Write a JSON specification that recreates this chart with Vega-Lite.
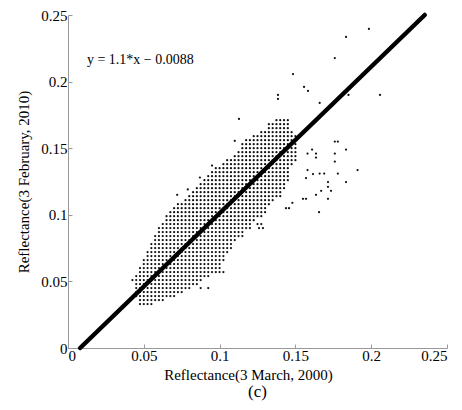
{
"$schema":"https://vega.github.io/schema/vega-lite/v6.json",
"width":379,"height":333,
"autosize":"none",
"padding":{"left":68,"top":15,"right":15,"bottom":62},
"title":{"text":"(c)","orient":"bottom","font":"Liberation Serif","fontSize":17,"fontWeight":"normal","color":"#000","offset":2},
"config":{"view":{"stroke":null},"axis":{"grid":false,"domainColor":"#999","tickColor":"#999","labelFont":"Liberation Serif","labelFontSize":15,"labelColor":"#000","titleFont":"Liberation Serif","titleFontSize":15,"titleFontWeight":"normal","titleColor":"#000"}},
"datasets":{
"cloud":[
{"x":0.0475,"y":0.033},{"x":0.05,"y":0.033},{"x":0.0525,"y":0.033},{"x":0.055,"y":0.033},
{"x":0.0475,"y":0.036},{"x":0.05,"y":0.036},{"x":0.0525,"y":0.036},{"x":0.055,"y":0.036},{"x":0.0575,"y":0.036},{"x":0.06,"y":0.036},{"x":0.0625,"y":0.036},
{"x":0.045,"y":0.039},{"x":0.0475,"y":0.039},{"x":0.05,"y":0.039},{"x":0.0525,"y":0.039},{"x":0.055,"y":0.039},{"x":0.0575,"y":0.039},{"x":0.06,"y":0.039},{"x":0.0625,"y":0.039},{"x":0.065,"y":0.039},{"x":0.0675,"y":0.039},{"x":0.07,"y":0.039},
{"x":0.045,"y":0.042},{"x":0.0475,"y":0.042},{"x":0.05,"y":0.042},{"x":0.0525,"y":0.042},{"x":0.055,"y":0.042},{"x":0.0575,"y":0.042},{"x":0.06,"y":0.042},{"x":0.0625,"y":0.042},{"x":0.065,"y":0.042},{"x":0.0675,"y":0.042},{"x":0.07,"y":0.042},{"x":0.0725,"y":0.042},{"x":0.075,"y":0.042},
{"x":0.045,"y":0.045},{"x":0.0475,"y":0.045},{"x":0.05,"y":0.045},{"x":0.0525,"y":0.045},{"x":0.055,"y":0.045},{"x":0.0575,"y":0.045},{"x":0.06,"y":0.045},{"x":0.0625,"y":0.045},{"x":0.065,"y":0.045},{"x":0.0675,"y":0.045},{"x":0.07,"y":0.045},{"x":0.0725,"y":0.045},{"x":0.075,"y":0.045},{"x":0.0775,"y":0.045},{"x":0.08,"y":0.045},
{"x":0.045,"y":0.048},{"x":0.0475,"y":0.048},{"x":0.05,"y":0.048},{"x":0.0525,"y":0.048},{"x":0.055,"y":0.048},{"x":0.0575,"y":0.048},{"x":0.06,"y":0.048},{"x":0.0625,"y":0.048},{"x":0.065,"y":0.048},{"x":0.0675,"y":0.048},{"x":0.07,"y":0.048},{"x":0.0725,"y":0.048},{"x":0.075,"y":0.048},{"x":0.0775,"y":0.048},{"x":0.08,"y":0.048},{"x":0.0825,"y":0.048},{"x":0.085,"y":0.048},
{"x":0.045,"y":0.051},{"x":0.0475,"y":0.051},{"x":0.05,"y":0.051},{"x":0.0525,"y":0.051},{"x":0.055,"y":0.051},{"x":0.0575,"y":0.051},{"x":0.06,"y":0.051},{"x":0.0625,"y":0.051},{"x":0.065,"y":0.051},{"x":0.0675,"y":0.051},{"x":0.07,"y":0.051},{"x":0.0725,"y":0.051},{"x":0.075,"y":0.051},{"x":0.0775,"y":0.051},{"x":0.08,"y":0.051},{"x":0.0825,"y":0.051},{"x":0.085,"y":0.051},{"x":0.0875,"y":0.051},
{"x":0.045,"y":0.054},{"x":0.0475,"y":0.054},{"x":0.05,"y":0.054},{"x":0.0525,"y":0.054},{"x":0.055,"y":0.054},{"x":0.0575,"y":0.054},{"x":0.06,"y":0.054},{"x":0.0625,"y":0.054},{"x":0.065,"y":0.054},{"x":0.0675,"y":0.054},{"x":0.07,"y":0.054},{"x":0.0725,"y":0.054},{"x":0.075,"y":0.054},{"x":0.0775,"y":0.054},{"x":0.08,"y":0.054},{"x":0.0825,"y":0.054},{"x":0.085,"y":0.054},{"x":0.0875,"y":0.054},{"x":0.09,"y":0.054},{"x":0.0925,"y":0.054},
{"x":0.0475,"y":0.057},{"x":0.05,"y":0.057},{"x":0.0525,"y":0.057},{"x":0.055,"y":0.057},{"x":0.0575,"y":0.057},{"x":0.06,"y":0.057},{"x":0.0625,"y":0.057},{"x":0.065,"y":0.057},{"x":0.0675,"y":0.057},{"x":0.07,"y":0.057},{"x":0.0725,"y":0.057},{"x":0.075,"y":0.057},{"x":0.0775,"y":0.057},{"x":0.08,"y":0.057},{"x":0.0825,"y":0.057},{"x":0.085,"y":0.057},{"x":0.0875,"y":0.057},{"x":0.09,"y":0.057},{"x":0.0925,"y":0.057},{"x":0.095,"y":0.057},{"x":0.0975,"y":0.057},
{"x":0.0475,"y":0.06},{"x":0.05,"y":0.06},{"x":0.0525,"y":0.06},{"x":0.055,"y":0.06},{"x":0.0575,"y":0.06},{"x":0.06,"y":0.06},{"x":0.0625,"y":0.06},{"x":0.065,"y":0.06},{"x":0.0675,"y":0.06},{"x":0.07,"y":0.06},{"x":0.0725,"y":0.06},{"x":0.075,"y":0.06},{"x":0.0775,"y":0.06},{"x":0.08,"y":0.06},{"x":0.0825,"y":0.06},{"x":0.085,"y":0.06},{"x":0.0875,"y":0.06},{"x":0.09,"y":0.06},{"x":0.0925,"y":0.06},{"x":0.095,"y":0.06},{"x":0.0975,"y":0.06},{"x":0.1,"y":0.06},
{"x":0.05,"y":0.063},{"x":0.0525,"y":0.063},{"x":0.055,"y":0.063},{"x":0.0575,"y":0.063},{"x":0.06,"y":0.063},{"x":0.0625,"y":0.063},{"x":0.065,"y":0.063},{"x":0.0675,"y":0.063},{"x":0.07,"y":0.063},{"x":0.0725,"y":0.063},{"x":0.075,"y":0.063},{"x":0.0775,"y":0.063},{"x":0.08,"y":0.063},{"x":0.0825,"y":0.063},{"x":0.085,"y":0.063},{"x":0.0875,"y":0.063},{"x":0.09,"y":0.063},{"x":0.0925,"y":0.063},{"x":0.095,"y":0.063},{"x":0.0975,"y":0.063},{"x":0.1,"y":0.063},
{"x":0.05,"y":0.066},{"x":0.0525,"y":0.066},{"x":0.055,"y":0.066},{"x":0.0575,"y":0.066},{"x":0.06,"y":0.066},{"x":0.0625,"y":0.066},{"x":0.065,"y":0.066},{"x":0.0675,"y":0.066},{"x":0.07,"y":0.066},{"x":0.0725,"y":0.066},{"x":0.075,"y":0.066},{"x":0.0775,"y":0.066},{"x":0.08,"y":0.066},{"x":0.0825,"y":0.066},{"x":0.085,"y":0.066},{"x":0.0875,"y":0.066},{"x":0.09,"y":0.066},{"x":0.0925,"y":0.066},{"x":0.095,"y":0.066},{"x":0.0975,"y":0.066},{"x":0.1,"y":0.066},{"x":0.1025,"y":0.066},
{"x":0.0525,"y":0.069},{"x":0.055,"y":0.069},{"x":0.0575,"y":0.069},{"x":0.06,"y":0.069},{"x":0.0625,"y":0.069},{"x":0.065,"y":0.069},{"x":0.0675,"y":0.069},{"x":0.07,"y":0.069},{"x":0.0725,"y":0.069},{"x":0.075,"y":0.069},{"x":0.0775,"y":0.069},{"x":0.08,"y":0.069},{"x":0.0825,"y":0.069},{"x":0.085,"y":0.069},{"x":0.0875,"y":0.069},{"x":0.09,"y":0.069},{"x":0.0925,"y":0.069},{"x":0.095,"y":0.069},{"x":0.0975,"y":0.069},{"x":0.1,"y":0.069},{"x":0.1025,"y":0.069},
{"x":0.0525,"y":0.072},{"x":0.055,"y":0.072},{"x":0.0575,"y":0.072},{"x":0.06,"y":0.072},{"x":0.0625,"y":0.072},{"x":0.065,"y":0.072},{"x":0.0675,"y":0.072},{"x":0.07,"y":0.072},{"x":0.0725,"y":0.072},{"x":0.075,"y":0.072},{"x":0.0775,"y":0.072},{"x":0.08,"y":0.072},{"x":0.0825,"y":0.072},{"x":0.085,"y":0.072},{"x":0.0875,"y":0.072},{"x":0.09,"y":0.072},{"x":0.0925,"y":0.072},{"x":0.095,"y":0.072},{"x":0.0975,"y":0.072},{"x":0.1,"y":0.072},{"x":0.1025,"y":0.072},{"x":0.105,"y":0.072},
{"x":0.055,"y":0.075},{"x":0.0575,"y":0.075},{"x":0.06,"y":0.075},{"x":0.0625,"y":0.075},{"x":0.065,"y":0.075},{"x":0.0675,"y":0.075},{"x":0.07,"y":0.075},{"x":0.0725,"y":0.075},{"x":0.075,"y":0.075},{"x":0.0775,"y":0.075},{"x":0.08,"y":0.075},{"x":0.0825,"y":0.075},{"x":0.085,"y":0.075},{"x":0.0875,"y":0.075},{"x":0.09,"y":0.075},{"x":0.0925,"y":0.075},{"x":0.095,"y":0.075},{"x":0.0975,"y":0.075},{"x":0.1,"y":0.075},{"x":0.1025,"y":0.075},{"x":0.105,"y":0.075},{"x":0.1075,"y":0.075},
{"x":0.055,"y":0.078},{"x":0.0575,"y":0.078},{"x":0.06,"y":0.078},{"x":0.0625,"y":0.078},{"x":0.065,"y":0.078},{"x":0.0675,"y":0.078},{"x":0.07,"y":0.078},{"x":0.0725,"y":0.078},{"x":0.075,"y":0.078},{"x":0.0775,"y":0.078},{"x":0.08,"y":0.078},{"x":0.0825,"y":0.078},{"x":0.085,"y":0.078},{"x":0.0875,"y":0.078},{"x":0.09,"y":0.078},{"x":0.0925,"y":0.078},{"x":0.095,"y":0.078},{"x":0.0975,"y":0.078},{"x":0.1,"y":0.078},{"x":0.1025,"y":0.078},{"x":0.105,"y":0.078},{"x":0.1075,"y":0.078},
{"x":0.0575,"y":0.081},{"x":0.06,"y":0.081},{"x":0.0625,"y":0.081},{"x":0.065,"y":0.081},{"x":0.0675,"y":0.081},{"x":0.07,"y":0.081},{"x":0.0725,"y":0.081},{"x":0.075,"y":0.081},{"x":0.0775,"y":0.081},{"x":0.08,"y":0.081},{"x":0.0825,"y":0.081},{"x":0.085,"y":0.081},{"x":0.0875,"y":0.081},{"x":0.09,"y":0.081},{"x":0.0925,"y":0.081},{"x":0.095,"y":0.081},{"x":0.0975,"y":0.081},{"x":0.1,"y":0.081},{"x":0.1025,"y":0.081},{"x":0.105,"y":0.081},{"x":0.1075,"y":0.081},{"x":0.11,"y":0.081},
{"x":0.0575,"y":0.084},{"x":0.06,"y":0.084},{"x":0.0625,"y":0.084},{"x":0.065,"y":0.084},{"x":0.0675,"y":0.084},{"x":0.07,"y":0.084},{"x":0.0725,"y":0.084},{"x":0.075,"y":0.084},{"x":0.0775,"y":0.084},{"x":0.08,"y":0.084},{"x":0.0825,"y":0.084},{"x":0.085,"y":0.084},{"x":0.0875,"y":0.084},{"x":0.09,"y":0.084},{"x":0.0925,"y":0.084},{"x":0.095,"y":0.084},{"x":0.0975,"y":0.084},{"x":0.1,"y":0.084},{"x":0.1025,"y":0.084},{"x":0.105,"y":0.084},{"x":0.1075,"y":0.084},{"x":0.11,"y":0.084},{"x":0.1125,"y":0.084},{"x":0.115,"y":0.084},
{"x":0.06,"y":0.087},{"x":0.0625,"y":0.087},{"x":0.065,"y":0.087},{"x":0.0675,"y":0.087},{"x":0.07,"y":0.087},{"x":0.0725,"y":0.087},{"x":0.075,"y":0.087},{"x":0.0775,"y":0.087},{"x":0.08,"y":0.087},{"x":0.0825,"y":0.087},{"x":0.085,"y":0.087},{"x":0.0875,"y":0.087},{"x":0.09,"y":0.087},{"x":0.0925,"y":0.087},{"x":0.095,"y":0.087},{"x":0.0975,"y":0.087},{"x":0.1,"y":0.087},{"x":0.1025,"y":0.087},{"x":0.105,"y":0.087},{"x":0.1075,"y":0.087},{"x":0.11,"y":0.087},{"x":0.1125,"y":0.087},{"x":0.115,"y":0.087},
{"x":0.06,"y":0.09},{"x":0.0625,"y":0.09},{"x":0.065,"y":0.09},{"x":0.0675,"y":0.09},{"x":0.07,"y":0.09},{"x":0.0725,"y":0.09},{"x":0.075,"y":0.09},{"x":0.0775,"y":0.09},{"x":0.08,"y":0.09},{"x":0.0825,"y":0.09},{"x":0.085,"y":0.09},{"x":0.0875,"y":0.09},{"x":0.09,"y":0.09},{"x":0.0925,"y":0.09},{"x":0.095,"y":0.09},{"x":0.0975,"y":0.09},{"x":0.1,"y":0.09},{"x":0.1025,"y":0.09},{"x":0.105,"y":0.09},{"x":0.1075,"y":0.09},{"x":0.11,"y":0.09},{"x":0.1125,"y":0.09},{"x":0.115,"y":0.09},{"x":0.1175,"y":0.09},{"x":0.12,"y":0.09},
{"x":0.0625,"y":0.093},{"x":0.065,"y":0.093},{"x":0.0675,"y":0.093},{"x":0.07,"y":0.093},{"x":0.0725,"y":0.093},{"x":0.075,"y":0.093},{"x":0.0775,"y":0.093},{"x":0.08,"y":0.093},{"x":0.0825,"y":0.093},{"x":0.085,"y":0.093},{"x":0.0875,"y":0.093},{"x":0.09,"y":0.093},{"x":0.0925,"y":0.093},{"x":0.095,"y":0.093},{"x":0.0975,"y":0.093},{"x":0.1,"y":0.093},{"x":0.1025,"y":0.093},{"x":0.105,"y":0.093},{"x":0.1075,"y":0.093},{"x":0.11,"y":0.093},{"x":0.1125,"y":0.093},{"x":0.115,"y":0.093},{"x":0.1175,"y":0.093},{"x":0.12,"y":0.093},
{"x":0.065,"y":0.096},{"x":0.0675,"y":0.096},{"x":0.07,"y":0.096},{"x":0.0725,"y":0.096},{"x":0.075,"y":0.096},{"x":0.0775,"y":0.096},{"x":0.08,"y":0.096},{"x":0.0825,"y":0.096},{"x":0.085,"y":0.096},{"x":0.0875,"y":0.096},{"x":0.09,"y":0.096},{"x":0.0925,"y":0.096},{"x":0.095,"y":0.096},{"x":0.0975,"y":0.096},{"x":0.1,"y":0.096},{"x":0.1025,"y":0.096},{"x":0.105,"y":0.096},{"x":0.1075,"y":0.096},{"x":0.11,"y":0.096},{"x":0.1125,"y":0.096},{"x":0.115,"y":0.096},{"x":0.1175,"y":0.096},{"x":0.12,"y":0.096},{"x":0.1225,"y":0.096},
{"x":0.065,"y":0.099},{"x":0.0675,"y":0.099},{"x":0.07,"y":0.099},{"x":0.0725,"y":0.099},{"x":0.075,"y":0.099},{"x":0.0775,"y":0.099},{"x":0.08,"y":0.099},{"x":0.0825,"y":0.099},{"x":0.085,"y":0.099},{"x":0.0875,"y":0.099},{"x":0.09,"y":0.099},{"x":0.0925,"y":0.099},{"x":0.095,"y":0.099},{"x":0.0975,"y":0.099},{"x":0.1,"y":0.099},{"x":0.1025,"y":0.099},{"x":0.105,"y":0.099},{"x":0.1075,"y":0.099},{"x":0.11,"y":0.099},{"x":0.1125,"y":0.099},{"x":0.115,"y":0.099},{"x":0.1175,"y":0.099},{"x":0.12,"y":0.099},{"x":0.1225,"y":0.099},{"x":0.125,"y":0.099},{"x":0.1275,"y":0.099},
{"x":0.0675,"y":0.102},{"x":0.07,"y":0.102},{"x":0.0725,"y":0.102},{"x":0.075,"y":0.102},{"x":0.0775,"y":0.102},{"x":0.08,"y":0.102},{"x":0.0825,"y":0.102},{"x":0.085,"y":0.102},{"x":0.0875,"y":0.102},{"x":0.09,"y":0.102},{"x":0.0925,"y":0.102},{"x":0.095,"y":0.102},{"x":0.0975,"y":0.102},{"x":0.1,"y":0.102},{"x":0.1025,"y":0.102},{"x":0.105,"y":0.102},{"x":0.1075,"y":0.102},{"x":0.11,"y":0.102},{"x":0.1125,"y":0.102},{"x":0.115,"y":0.102},{"x":0.1175,"y":0.102},{"x":0.12,"y":0.102},{"x":0.1225,"y":0.102},{"x":0.125,"y":0.102},{"x":0.1275,"y":0.102},{"x":0.13,"y":0.102},
{"x":0.07,"y":0.105},{"x":0.0725,"y":0.105},{"x":0.075,"y":0.105},{"x":0.0775,"y":0.105},{"x":0.08,"y":0.105},{"x":0.0825,"y":0.105},{"x":0.085,"y":0.105},{"x":0.0875,"y":0.105},{"x":0.09,"y":0.105},{"x":0.0925,"y":0.105},{"x":0.095,"y":0.105},{"x":0.0975,"y":0.105},{"x":0.1,"y":0.105},{"x":0.1025,"y":0.105},{"x":0.105,"y":0.105},{"x":0.1075,"y":0.105},{"x":0.11,"y":0.105},{"x":0.1125,"y":0.105},{"x":0.115,"y":0.105},{"x":0.1175,"y":0.105},{"x":0.12,"y":0.105},{"x":0.1225,"y":0.105},{"x":0.125,"y":0.105},{"x":0.1275,"y":0.105},{"x":0.13,"y":0.105},
{"x":0.0725,"y":0.108},{"x":0.075,"y":0.108},{"x":0.0775,"y":0.108},{"x":0.08,"y":0.108},{"x":0.0825,"y":0.108},{"x":0.085,"y":0.108},{"x":0.0875,"y":0.108},{"x":0.09,"y":0.108},{"x":0.0925,"y":0.108},{"x":0.095,"y":0.108},{"x":0.0975,"y":0.108},{"x":0.1,"y":0.108},{"x":0.1025,"y":0.108},{"x":0.105,"y":0.108},{"x":0.1075,"y":0.108},{"x":0.11,"y":0.108},{"x":0.1125,"y":0.108},{"x":0.115,"y":0.108},{"x":0.1175,"y":0.108},{"x":0.12,"y":0.108},{"x":0.1225,"y":0.108},{"x":0.125,"y":0.108},{"x":0.1275,"y":0.108},{"x":0.13,"y":0.108},{"x":0.1325,"y":0.108},
{"x":0.0775,"y":0.111},{"x":0.08,"y":0.111},{"x":0.0825,"y":0.111},{"x":0.085,"y":0.111},{"x":0.0875,"y":0.111},{"x":0.09,"y":0.111},{"x":0.0925,"y":0.111},{"x":0.095,"y":0.111},{"x":0.0975,"y":0.111},{"x":0.1,"y":0.111},{"x":0.1025,"y":0.111},{"x":0.105,"y":0.111},{"x":0.1075,"y":0.111},{"x":0.11,"y":0.111},{"x":0.1125,"y":0.111},{"x":0.115,"y":0.111},{"x":0.1175,"y":0.111},{"x":0.12,"y":0.111},{"x":0.1225,"y":0.111},{"x":0.125,"y":0.111},{"x":0.1275,"y":0.111},{"x":0.13,"y":0.111},{"x":0.1325,"y":0.111},{"x":0.135,"y":0.111},
{"x":0.08,"y":0.114},{"x":0.0825,"y":0.114},{"x":0.085,"y":0.114},{"x":0.0875,"y":0.114},{"x":0.09,"y":0.114},{"x":0.0925,"y":0.114},{"x":0.095,"y":0.114},{"x":0.0975,"y":0.114},{"x":0.1,"y":0.114},{"x":0.1025,"y":0.114},{"x":0.105,"y":0.114},{"x":0.1075,"y":0.114},{"x":0.11,"y":0.114},{"x":0.1125,"y":0.114},{"x":0.115,"y":0.114},{"x":0.1175,"y":0.114},{"x":0.12,"y":0.114},{"x":0.1225,"y":0.114},{"x":0.125,"y":0.114},{"x":0.1275,"y":0.114},{"x":0.13,"y":0.114},{"x":0.1325,"y":0.114},{"x":0.135,"y":0.114},{"x":0.1375,"y":0.114},{"x":0.14,"y":0.114},
{"x":0.0825,"y":0.117},{"x":0.085,"y":0.117},{"x":0.0875,"y":0.117},{"x":0.09,"y":0.117},{"x":0.0925,"y":0.117},{"x":0.095,"y":0.117},{"x":0.0975,"y":0.117},{"x":0.1,"y":0.117},{"x":0.1025,"y":0.117},{"x":0.105,"y":0.117},{"x":0.1075,"y":0.117},{"x":0.11,"y":0.117},{"x":0.1125,"y":0.117},{"x":0.115,"y":0.117},{"x":0.1175,"y":0.117},{"x":0.12,"y":0.117},{"x":0.1225,"y":0.117},{"x":0.125,"y":0.117},{"x":0.1275,"y":0.117},{"x":0.13,"y":0.117},{"x":0.1325,"y":0.117},{"x":0.135,"y":0.117},{"x":0.1375,"y":0.117},{"x":0.14,"y":0.117},
{"x":0.085,"y":0.12},{"x":0.0875,"y":0.12},{"x":0.09,"y":0.12},{"x":0.0925,"y":0.12},{"x":0.095,"y":0.12},{"x":0.0975,"y":0.12},{"x":0.1,"y":0.12},{"x":0.1025,"y":0.12},{"x":0.105,"y":0.12},{"x":0.1075,"y":0.12},{"x":0.11,"y":0.12},{"x":0.1125,"y":0.12},{"x":0.115,"y":0.12},{"x":0.1175,"y":0.12},{"x":0.12,"y":0.12},{"x":0.1225,"y":0.12},{"x":0.125,"y":0.12},{"x":0.1275,"y":0.12},{"x":0.13,"y":0.12},{"x":0.1325,"y":0.12},{"x":0.135,"y":0.12},{"x":0.1375,"y":0.12},{"x":0.14,"y":0.12},{"x":0.1425,"y":0.12},
{"x":0.0875,"y":0.123},{"x":0.09,"y":0.123},{"x":0.0925,"y":0.123},{"x":0.095,"y":0.123},{"x":0.0975,"y":0.123},{"x":0.1,"y":0.123},{"x":0.1025,"y":0.123},{"x":0.105,"y":0.123},{"x":0.1075,"y":0.123},{"x":0.11,"y":0.123},{"x":0.1125,"y":0.123},{"x":0.115,"y":0.123},{"x":0.1175,"y":0.123},{"x":0.12,"y":0.123},{"x":0.1225,"y":0.123},{"x":0.125,"y":0.123},{"x":0.1275,"y":0.123},{"x":0.13,"y":0.123},{"x":0.1325,"y":0.123},{"x":0.135,"y":0.123},{"x":0.1375,"y":0.123},{"x":0.14,"y":0.123},{"x":0.1425,"y":0.123},
{"x":0.09,"y":0.126},{"x":0.0925,"y":0.126},{"x":0.095,"y":0.126},{"x":0.0975,"y":0.126},{"x":0.1,"y":0.126},{"x":0.1025,"y":0.126},{"x":0.105,"y":0.126},{"x":0.1075,"y":0.126},{"x":0.11,"y":0.126},{"x":0.1125,"y":0.126},{"x":0.115,"y":0.126},{"x":0.1175,"y":0.126},{"x":0.12,"y":0.126},{"x":0.1225,"y":0.126},{"x":0.125,"y":0.126},{"x":0.1275,"y":0.126},{"x":0.13,"y":0.126},{"x":0.1325,"y":0.126},{"x":0.135,"y":0.126},{"x":0.1375,"y":0.126},{"x":0.14,"y":0.126},{"x":0.1425,"y":0.126},{"x":0.145,"y":0.126},
{"x":0.0925,"y":0.129},{"x":0.095,"y":0.129},{"x":0.0975,"y":0.129},{"x":0.1,"y":0.129},{"x":0.1025,"y":0.129},{"x":0.105,"y":0.129},{"x":0.1075,"y":0.129},{"x":0.11,"y":0.129},{"x":0.1125,"y":0.129},{"x":0.115,"y":0.129},{"x":0.1175,"y":0.129},{"x":0.12,"y":0.129},{"x":0.1225,"y":0.129},{"x":0.125,"y":0.129},{"x":0.1275,"y":0.129},{"x":0.13,"y":0.129},{"x":0.1325,"y":0.129},{"x":0.135,"y":0.129},{"x":0.1375,"y":0.129},{"x":0.14,"y":0.129},{"x":0.1425,"y":0.129},{"x":0.145,"y":0.129},
{"x":0.095,"y":0.132},{"x":0.0975,"y":0.132},{"x":0.1,"y":0.132},{"x":0.1025,"y":0.132},{"x":0.105,"y":0.132},{"x":0.1075,"y":0.132},{"x":0.11,"y":0.132},{"x":0.1125,"y":0.132},{"x":0.115,"y":0.132},{"x":0.1175,"y":0.132},{"x":0.12,"y":0.132},{"x":0.1225,"y":0.132},{"x":0.125,"y":0.132},{"x":0.1275,"y":0.132},{"x":0.13,"y":0.132},{"x":0.1325,"y":0.132},{"x":0.135,"y":0.132},{"x":0.1375,"y":0.132},{"x":0.14,"y":0.132},{"x":0.1425,"y":0.132},{"x":0.145,"y":0.132},
{"x":0.0975,"y":0.135},{"x":0.1,"y":0.135},{"x":0.1025,"y":0.135},{"x":0.105,"y":0.135},{"x":0.1075,"y":0.135},{"x":0.11,"y":0.135},{"x":0.1125,"y":0.135},{"x":0.115,"y":0.135},{"x":0.1175,"y":0.135},{"x":0.12,"y":0.135},{"x":0.1225,"y":0.135},{"x":0.125,"y":0.135},{"x":0.1275,"y":0.135},{"x":0.13,"y":0.135},{"x":0.1325,"y":0.135},{"x":0.135,"y":0.135},{"x":0.1375,"y":0.135},{"x":0.14,"y":0.135},{"x":0.1425,"y":0.135},{"x":0.145,"y":0.135},
{"x":0.1025,"y":0.138},{"x":0.105,"y":0.138},{"x":0.1075,"y":0.138},{"x":0.11,"y":0.138},{"x":0.1125,"y":0.138},{"x":0.115,"y":0.138},{"x":0.1175,"y":0.138},{"x":0.12,"y":0.138},{"x":0.1225,"y":0.138},{"x":0.125,"y":0.138},{"x":0.1275,"y":0.138},{"x":0.13,"y":0.138},{"x":0.1325,"y":0.138},{"x":0.135,"y":0.138},{"x":0.1375,"y":0.138},{"x":0.14,"y":0.138},{"x":0.1425,"y":0.138},{"x":0.145,"y":0.138},{"x":0.1475,"y":0.138},
{"x":0.105,"y":0.141},{"x":0.1075,"y":0.141},{"x":0.11,"y":0.141},{"x":0.1125,"y":0.141},{"x":0.115,"y":0.141},{"x":0.1175,"y":0.141},{"x":0.12,"y":0.141},{"x":0.1225,"y":0.141},{"x":0.125,"y":0.141},{"x":0.1275,"y":0.141},{"x":0.13,"y":0.141},{"x":0.1325,"y":0.141},{"x":0.135,"y":0.141},{"x":0.1375,"y":0.141},{"x":0.14,"y":0.141},{"x":0.1425,"y":0.141},{"x":0.145,"y":0.141},{"x":0.1475,"y":0.141},{"x":0.15,"y":0.141},
{"x":0.11,"y":0.144},{"x":0.1125,"y":0.144},{"x":0.115,"y":0.144},{"x":0.1175,"y":0.144},{"x":0.12,"y":0.144},{"x":0.1225,"y":0.144},{"x":0.125,"y":0.144},{"x":0.1275,"y":0.144},{"x":0.13,"y":0.144},{"x":0.1325,"y":0.144},{"x":0.135,"y":0.144},{"x":0.1375,"y":0.144},{"x":0.14,"y":0.144},{"x":0.1425,"y":0.144},{"x":0.145,"y":0.144},{"x":0.1475,"y":0.144},{"x":0.15,"y":0.144},
{"x":0.1125,"y":0.147},{"x":0.115,"y":0.147},{"x":0.1175,"y":0.147},{"x":0.12,"y":0.147},{"x":0.1225,"y":0.147},{"x":0.125,"y":0.147},{"x":0.1275,"y":0.147},{"x":0.13,"y":0.147},{"x":0.1325,"y":0.147},{"x":0.135,"y":0.147},{"x":0.1375,"y":0.147},{"x":0.14,"y":0.147},{"x":0.1425,"y":0.147},{"x":0.145,"y":0.147},{"x":0.1475,"y":0.147},{"x":0.15,"y":0.147},
{"x":0.115,"y":0.15},{"x":0.1175,"y":0.15},{"x":0.12,"y":0.15},{"x":0.1225,"y":0.15},{"x":0.125,"y":0.15},{"x":0.1275,"y":0.15},{"x":0.13,"y":0.15},{"x":0.1325,"y":0.15},{"x":0.135,"y":0.15},{"x":0.1375,"y":0.15},{"x":0.14,"y":0.15},{"x":0.1425,"y":0.15},{"x":0.145,"y":0.15},{"x":0.1475,"y":0.15},{"x":0.15,"y":0.15},
{"x":0.115,"y":0.153},{"x":0.1175,"y":0.153},{"x":0.12,"y":0.153},{"x":0.1225,"y":0.153},{"x":0.125,"y":0.153},{"x":0.1275,"y":0.153},{"x":0.13,"y":0.153},{"x":0.1325,"y":0.153},{"x":0.135,"y":0.153},{"x":0.1375,"y":0.153},{"x":0.14,"y":0.153},{"x":0.1425,"y":0.153},{"x":0.145,"y":0.153},{"x":0.1475,"y":0.153},{"x":0.15,"y":0.153},
{"x":0.1175,"y":0.156},{"x":0.12,"y":0.156},{"x":0.1225,"y":0.156},{"x":0.125,"y":0.156},{"x":0.1275,"y":0.156},{"x":0.13,"y":0.156},{"x":0.1325,"y":0.156},{"x":0.135,"y":0.156},{"x":0.1375,"y":0.156},{"x":0.14,"y":0.156},{"x":0.1425,"y":0.156},{"x":0.145,"y":0.156},{"x":0.1475,"y":0.156},{"x":0.15,"y":0.156},
{"x":0.1225,"y":0.159},{"x":0.125,"y":0.159},{"x":0.1275,"y":0.159},{"x":0.13,"y":0.159},{"x":0.1325,"y":0.159},{"x":0.135,"y":0.159},{"x":0.1375,"y":0.159},{"x":0.14,"y":0.159},{"x":0.1425,"y":0.159},{"x":0.145,"y":0.159},{"x":0.1475,"y":0.159},{"x":0.15,"y":0.159},
{"x":0.1275,"y":0.162},{"x":0.13,"y":0.162},{"x":0.1325,"y":0.162},{"x":0.135,"y":0.162},{"x":0.1375,"y":0.162},{"x":0.14,"y":0.162},{"x":0.1425,"y":0.162},{"x":0.145,"y":0.162},{"x":0.1475,"y":0.162},
{"x":0.1325,"y":0.165},{"x":0.135,"y":0.165},{"x":0.1375,"y":0.165},{"x":0.14,"y":0.165},{"x":0.1425,"y":0.165},{"x":0.145,"y":0.165},
{"x":0.1325,"y":0.168},{"x":0.135,"y":0.168},{"x":0.1375,"y":0.168},{"x":0.14,"y":0.168},{"x":0.1425,"y":0.168},{"x":0.145,"y":0.168},
{"x":0.1375,"y":0.171},{"x":0.14,"y":0.171},{"x":0.1425,"y":0.171},{"x":0.145,"y":0.171},
{"x":0.1985,"y":0.2395},{"x":0.1834,"y":0.2335},{"x":0.176,"y":0.2177},{"x":0.1484,"y":0.2057},{"x":0.1557,"y":0.196},{"x":0.1583,"y":0.193},{"x":0.1385,"y":0.19},{"x":0.1385,"y":0.187},{"x":0.166,"y":0.184},{"x":0.2058,"y":0.19},{"x":0.185,"y":0.19},
{"x":0.1128,"y":0.172},{"x":0.11,"y":0.1555},{"x":0.158,"y":0.165},{"x":0.176,"y":0.155},{"x":0.178,"y":0.155},{"x":0.1834,"y":0.149},{"x":0.161,"y":0.149},{"x":0.1636,"y":0.146},{"x":0.1636,"y":0.143},{"x":0.158,"y":0.146},{"x":0.176,"y":0.146},{"x":0.176,"y":0.14},
{"x":0.191,"y":0.1336},{"x":0.178,"y":0.131},{"x":0.166,"y":0.131},{"x":0.169,"y":0.131},{"x":0.1834,"y":0.1246},{"x":0.1715,"y":0.1246},{"x":0.1715,"y":0.121},{"x":0.158,"y":0.1336},{"x":0.1616,"y":0.1306},{"x":0.157,"y":0.1276},{"x":0.1735,"y":0.118},{"x":0.1636,"y":0.115},{"x":0.167,"y":0.118},
{"x":0.155,"y":0.112},{"x":0.157,"y":0.112},{"x":0.1715,"y":0.112},{"x":0.148,"y":0.109},{"x":0.1438,"y":0.105},{"x":0.1458,"y":0.105},{"x":0.1656,"y":0.102},{"x":0.126,"y":0.09},{"x":0.1286,"y":0.09},{"x":0.125,"y":0.093},{"x":0.1275,"y":0.093},
{"x":0.0425,"y":0.051},{"x":0.072,"y":0.115},{"x":0.079,"y":0.119},{"x":0.087,"y":0.128},{"x":0.095,"y":0.137},{"x":0.0875,"y":0.045},{"x":0.0925,"y":0.045},{"x":0.1,"y":0.057},{"x":0.1025,"y":0.057}
],
"fit":[{"x":0.008,"y":0},{"x":0.2353,"y":0.25}],
"note":[{"x":0.0125,"y":0.216,"label":"y = 1.1*x − 0.0088"}]
},
"layer":[
{"data":{"name":"cloud"},"mark":{"type":"point","filled":true,"shape":"circle","size":5,"color":"#111","opacity":1},
 "encoding":{
  "x":{"field":"x","type":"quantitative","scale":{"domain":[0,0.25],"nice":false,"zero":false},
   "axis":{"title":"Reflectance(3 March, 2000)","values":[0,0.05,0.1,0.15,0.2,0.25],"format":"~g","tickSize":-4,"labelPadding":4,"titlePadding":4,"titleX":180}},
  "y":{"field":"y","type":"quantitative","scale":{"domain":[0,0.25],"nice":false,"zero":false},
   "axis":{"title":"Reflectance(3 February, 2010)","values":[0,0.05,0.1,0.15,0.2,0.25],"format":"~g","tickSize":-4,"labelPadding":5,"titlePadding":9}}}},
{"data":{"name":"fit"},"mark":{"type":"line","color":"#000","strokeWidth":4.5,"strokeCap":"round"},
 "encoding":{"x":{"field":"x","type":"quantitative"},"y":{"field":"y","type":"quantitative"}}},
{"data":{"name":"note"},"mark":{"type":"text","align":"left","baseline":"middle","font":"Liberation Serif","fontSize":14,"color":"#000"},
 "encoding":{"x":{"field":"x","type":"quantitative"},"y":{"field":"y","type":"quantitative"},"text":{"field":"label"}}}
]
}
